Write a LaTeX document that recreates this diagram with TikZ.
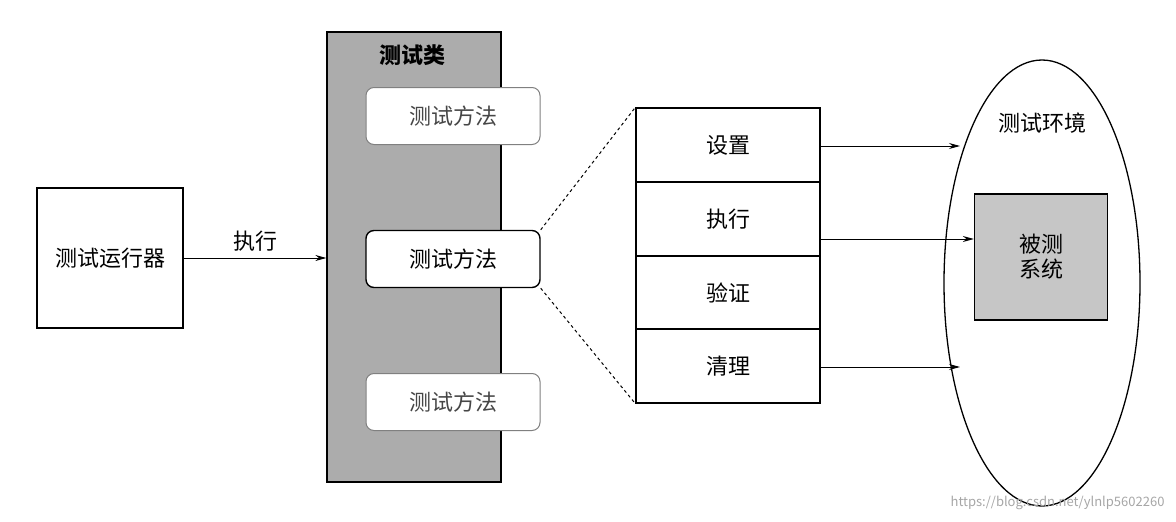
\documentclass[tikz,border=0pt]{standalone}
\usepackage{fontspec}
\setmainfont{Noto Sans CJK SC}
\usetikzlibrary{arrows.meta,shapes.geometric}
\tikzset{
  box/.style={draw,line width=1.3pt,inner sep=0pt},
  meth/.style={draw,rounded corners=8pt,line width=1pt,fill=white,minimum width=174pt,minimum height=57pt,font=\fontsize{22}{25}\selectfont},
  stepcell/.style={draw,line width=1.3pt,fill=white,minimum width=184pt,minimum height=74pt,font=\fontsize{22}{25}\selectfont},
  arr/.style={-{Stealth[length=11pt,width=6pt]},line width=1pt},
  txt/.style={font=\fontsize{22}{25}\selectfont}
}
\begin{document}
\begin{tikzpicture}[x=1pt,y=-1pt]
\useasboundingbox (0,0) rectangle (1176,522);
\node[box,minimum width=146pt,minimum height=140pt,txt] (runner) at (110,258) {测试运行器};
\node[box,fill=gray!65,minimum width=174pt,minimum height=450pt] (cls) at (414,257) {};
\node[font=\fontsize{22}{25}\selectfont\bfseries] (clsl) at (412,55) {测试类};
\node[meth,draw=gray,text=gray!55!black] (m1) at (453,116) {测试方法};
\node[meth,line width=1.4pt] (m2) at (453,259) {测试方法};
\node[meth,draw=gray,text=gray!55!black] (m3) at (453,402) {测试方法};
\draw[arr] (runner.east) -- node[above,txt,yshift=3pt]{执行} (cls.west|-runner.east);
\node[stepcell] (s1) at (728,145) {设置};
\node[stepcell] (s2) at (728,219) {执行};
\node[stepcell] (s3) at (728,293) {验证};
\node[stepcell] (s4) at (728,366) {清理};
\draw[dashed,line width=1pt] (m2.north east) -- (s1.north west);
\draw[dashed,line width=1pt] (m2.south east) -- (s4.south west);
\node[ellipse,draw,line width=1.3pt,minimum width=196pt,minimum height=446pt] (env) at (1042,283) {};
\node[txt] (envl) at (1042,123) {测试环境};
\node[box,fill=gray!45,minimum width=133pt,minimum height=126pt,align=center,txt] (sut) at (1041,257) {被测\\系统};
\coordinate (e1) at (960,146);
\coordinate (e3) at (960,367);
\draw[arr] (s1.east|-e1) -- (e1);
\draw[arr] (s2.east|-0,239) -- (sut.west|-0,239);
\draw[arr] (s4.east|-e3) -- (e3);
\node[text=gray!70,font=\fontsize{13}{15}\selectfont,anchor=east] (wm) at (1168,503) {https://blog.csdn.net/ylnlp5602260};
\end{tikzpicture}
\end{document}
